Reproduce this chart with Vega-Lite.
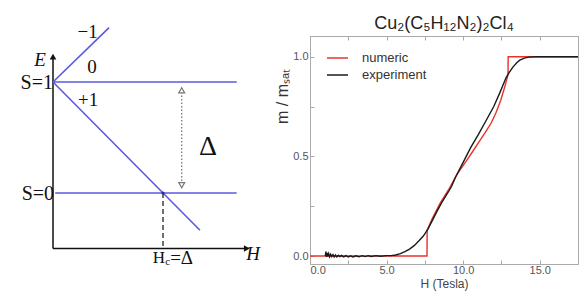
{
  "$schema": "https://vega.github.io/schema/vega-lite/v6.json",
  "padding": {"top": 14, "left": 0, "right": 0, "bottom": 0},
  "spacing": 13,
  "background": "white",
  "config": {"view": {"stroke": null}},
  "resolve": {"scale": {"color": "independent"}, "legend": {"color": "independent"}},
  "datasets": {
    "blue": [
      {"h": 0, "e": 1, "h2": 1.67, "e2": 1},
      {"h": 0.02, "e": 0, "h2": 1.67, "e2": 0},
      {"h": 0, "e": 1, "h2": 0.51, "e2": 1.49},
      {"h": 0, "e": 1, "h2": 1.336, "e2": -0.336}
    ],
    "axes": [
      {"h": 0, "e": -0.5, "h2": 0, "e2": 1.21},
      {"h": 0, "e": -0.5, "h2": 1.75, "e2": -0.5}
    ],
    "dash": [{"h": 1, "e": 0, "h2": 1, "e2": -0.5}],
    "dot": [{"h": 1.17, "e": 0.91, "h2": 1.17, "e2": 0.09}],
    "ahUp": [{"h": 0, "e": 1.228}],
    "ahRight": [{"h": 1.762, "e": -0.5}],
    "gapUp": [{"h": 1.17, "e": 0.925}],
    "gapDown": [{"h": 1.17, "e": 0.07}],
    "cross": [{"h": 1, "e": 0}],
    "sLabels": [
      {"h": 0.0, "e": 0.99, "t": "S=1"},
      {"h": 0.01, "e": -0.01, "t": "S=0"}
    ],
    "mLabels": [
      {"h": 0.314, "e": 1.45, "t": "−1"},
      {"h": 0.355, "e": 1.135, "t": "0"},
      {"h": 0.32, "e": 0.838, "t": "+1"}
    ],
    "italic": [
      {"h": -0.118, "e": 1.198, "t": "E"},
      {"h": 1.82, "e": -0.55, "t": "H"}
    ],
    "bigDelta": [{"h": 1.41, "e": 0.414, "t": "Δ"}],
    "hcH": [{"h": 1.018, "e": -0.59, "t": "H"}],
    "hcC": [{"h": 1.02, "e": -0.62, "t": "c"}],
    "hcEq": [{"h": 1.065, "e": -0.59, "t": "=Δ"}],
    "curves": [
      {"H": 0.0, "m": 0.0, "series": "numeric"},
      {"H": 7.64, "m": 0.0, "series": "numeric"},
      {"H": 7.65, "m": 0.13, "series": "numeric"},
      {"H": 8.0, "m": 0.19, "series": "numeric"},
      {"H": 8.5, "m": 0.265, "series": "numeric"},
      {"H": 9.1, "m": 0.34, "series": "numeric"},
      {"H": 9.6, "m": 0.41, "series": "numeric"},
      {"H": 10.2, "m": 0.476, "series": "numeric"},
      {"H": 10.6, "m": 0.522, "series": "numeric"},
      {"H": 11.07, "m": 0.576, "series": "numeric"},
      {"H": 11.5, "m": 0.627, "series": "numeric"},
      {"H": 11.85, "m": 0.67, "series": "numeric"},
      {"H": 12.15, "m": 0.72, "series": "numeric"},
      {"H": 12.45, "m": 0.78, "series": "numeric"},
      {"H": 12.7, "m": 0.844, "series": "numeric"},
      {"H": 12.93, "m": 0.91, "series": "numeric"},
      {"H": 12.94, "m": 1.0, "series": "numeric"},
      {"H": 17.5, "m": 1.0, "series": "numeric"},
      {"H": 1.0, "m": 0.0, "series": "experiment"},
      {"H": 1.04, "m": 0.022, "series": "experiment"},
      {"H": 1.08, "m": -0.004, "series": "experiment"},
      {"H": 1.12, "m": 0.016, "series": "experiment"},
      {"H": 1.17, "m": -0.002, "series": "experiment"},
      {"H": 1.22, "m": 0.012, "series": "experiment"},
      {"H": 1.28, "m": -0.004, "series": "experiment"},
      {"H": 1.35, "m": 0.009, "series": "experiment"},
      {"H": 1.42, "m": -0.003, "series": "experiment"},
      {"H": 1.5, "m": 0.007, "series": "experiment"},
      {"H": 1.58, "m": -0.004, "series": "experiment"},
      {"H": 1.66, "m": 0.005, "series": "experiment"},
      {"H": 1.75, "m": -0.004, "series": "experiment"},
      {"H": 1.85, "m": 0.004, "series": "experiment"},
      {"H": 1.95, "m": -0.003, "series": "experiment"},
      {"H": 2.05, "m": 0.003, "series": "experiment"},
      {"H": 2.2, "m": -0.004, "series": "experiment"},
      {"H": 2.35, "m": 0.002, "series": "experiment"},
      {"H": 2.5, "m": -0.005, "series": "experiment"},
      {"H": 2.65, "m": 0.001, "series": "experiment"},
      {"H": 2.8, "m": -0.005, "series": "experiment"},
      {"H": 3.0, "m": 0.001, "series": "experiment"},
      {"H": 3.2, "m": -0.004, "series": "experiment"},
      {"H": 3.4, "m": 0.002, "series": "experiment"},
      {"H": 3.6, "m": -0.003, "series": "experiment"},
      {"H": 3.8, "m": 0.002, "series": "experiment"},
      {"H": 4.0, "m": -0.002, "series": "experiment"},
      {"H": 4.3, "m": 0.002, "series": "experiment"},
      {"H": 4.6, "m": -0.001, "series": "experiment"},
      {"H": 5.0, "m": 0.002, "series": "experiment"},
      {"H": 5.3, "m": 0.002, "series": "experiment"},
      {"H": 5.6, "m": 0.005, "series": "experiment"},
      {"H": 5.9, "m": 0.012, "series": "experiment"},
      {"H": 6.2, "m": 0.022, "series": "experiment"},
      {"H": 6.5, "m": 0.035, "series": "experiment"},
      {"H": 6.8, "m": 0.052, "series": "experiment"},
      {"H": 7.1, "m": 0.075, "series": "experiment"},
      {"H": 7.4, "m": 0.1, "series": "experiment"},
      {"H": 7.7, "m": 0.135, "series": "experiment"},
      {"H": 8.0, "m": 0.18, "series": "experiment"},
      {"H": 8.3, "m": 0.225, "series": "experiment"},
      {"H": 8.6, "m": 0.268, "series": "experiment"},
      {"H": 8.9, "m": 0.305, "series": "experiment"},
      {"H": 9.1, "m": 0.33, "series": "experiment"},
      {"H": 9.25, "m": 0.35, "series": "experiment"},
      {"H": 9.5, "m": 0.395, "series": "experiment"},
      {"H": 10.0, "m": 0.47, "series": "experiment"},
      {"H": 10.5, "m": 0.545, "series": "experiment"},
      {"H": 11.0, "m": 0.61, "series": "experiment"},
      {"H": 11.5, "m": 0.68, "series": "experiment"},
      {"H": 12.0, "m": 0.75, "series": "experiment"},
      {"H": 12.4, "m": 0.82, "series": "experiment"},
      {"H": 12.8, "m": 0.894, "series": "experiment"},
      {"H": 13.0, "m": 0.92, "series": "experiment"},
      {"H": 13.25, "m": 0.948, "series": "experiment"},
      {"H": 13.5, "m": 0.97, "series": "experiment"},
      {"H": 13.7, "m": 0.983, "series": "experiment"},
      {"H": 14.0, "m": 0.993, "series": "experiment"},
      {"H": 14.3, "m": 0.998, "series": "experiment"},
      {"H": 14.8, "m": 1.0, "series": "experiment"},
      {"H": 17.5, "m": 1.0, "series": "experiment"}
    ]
  },
  "hconcat": [
    {
      "width": 260,
      "height": 258,
      "view": {"stroke": null},
      "layer": [
        {
          "data": {"name": "axes"},
          "mark": {"type": "rule", "color": "#111", "strokeWidth": 1.5},
          "encoding": {
            "x": {"field": "h", "type": "quantitative", "scale": {"domain": [-0.4818, 1.8818], "nice": false, "zero": false}, "axis": null},
            "y": {"field": "e", "type": "quantitative", "scale": {"domain": [-0.9099, 1.4144], "nice": false, "zero": false}, "axis": null},
            "x2": {"field": "h2"},
            "y2": {"field": "e2"}
          }
        },
        {
          "data": {"name": "blue"},
          "mark": {"type": "rule", "color": "#5a5ae0", "strokeWidth": 1.6},
          "encoding": {
            "x": {"field": "h", "type": "quantitative", "axis": null},
            "y": {"field": "e", "type": "quantitative", "axis": null},
            "x2": {"field": "h2"},
            "y2": {"field": "e2"}
          }
        },
        {
          "data": {"name": "dash"},
          "mark": {"type": "rule", "color": "#222", "strokeWidth": 1.3, "strokeDash": [5, 3]},
          "encoding": {
            "x": {"field": "h", "type": "quantitative", "axis": null},
            "y": {"field": "e", "type": "quantitative", "axis": null},
            "x2": {"field": "h2"},
            "y2": {"field": "e2"}
          }
        },
        {
          "data": {"name": "dot"},
          "mark": {"type": "rule", "color": "#777", "strokeWidth": 1.3, "strokeDash": [1.5, 2]},
          "encoding": {
            "x": {"field": "h", "type": "quantitative", "axis": null},
            "y": {"field": "e", "type": "quantitative", "axis": null},
            "x2": {"field": "h2"},
            "y2": {"field": "e2"}
          }
        },
        {
          "data": {"name": "ahUp"},
          "mark": {"type": "point", "shape": "triangle-up", "filled": true, "color": "#111", "size": 45, "opacity": 1},
          "encoding": {
            "x": {"field": "h", "type": "quantitative", "axis": null},
            "y": {"field": "e", "type": "quantitative", "axis": null}
          }
        },
        {
          "data": {"name": "ahRight"},
          "mark": {"type": "point", "shape": "triangle-right", "filled": true, "color": "#111", "size": 45, "opacity": 1},
          "encoding": {
            "x": {"field": "h", "type": "quantitative", "axis": null},
            "y": {"field": "e", "type": "quantitative", "axis": null}
          }
        },
        {
          "data": {"name": "gapUp"},
          "mark": {"type": "point", "shape": "triangle-up", "filled": false, "fill": "white", "stroke": "#777", "strokeWidth": 1.2, "size": 35, "opacity": 1},
          "encoding": {
            "x": {"field": "h", "type": "quantitative", "axis": null},
            "y": {"field": "e", "type": "quantitative", "axis": null}
          }
        },
        {
          "data": {"name": "gapDown"},
          "mark": {"type": "point", "shape": "triangle-down", "filled": false, "fill": "white", "stroke": "#777", "strokeWidth": 1.2, "size": 35, "opacity": 1},
          "encoding": {
            "x": {"field": "h", "type": "quantitative", "axis": null},
            "y": {"field": "e", "type": "quantitative", "axis": null}
          }
        },
        {
          "data": {"name": "cross"},
          "mark": {"type": "point", "shape": "circle", "filled": true, "color": "#2a2a90", "size": 10, "opacity": 1},
          "encoding": {
            "x": {"field": "h", "type": "quantitative", "axis": null},
            "y": {"field": "e", "type": "quantitative", "axis": null}
          }
        },
        {
          "data": {"name": "sLabels"},
          "mark": {"type": "text", "font": "Liberation Serif", "fontSize": 20, "align": "right", "baseline": "middle", "color": "#111"},
          "encoding": {
            "x": {"field": "h", "type": "quantitative", "axis": null},
            "y": {"field": "e", "type": "quantitative", "axis": null},
            "text": {"field": "t"}
          }
        },
        {
          "data": {"name": "mLabels"},
          "mark": {"type": "text", "font": "Liberation Serif", "fontSize": 19, "align": "center", "baseline": "middle", "color": "#111"},
          "encoding": {
            "x": {"field": "h", "type": "quantitative", "axis": null},
            "y": {"field": "e", "type": "quantitative", "axis": null},
            "text": {"field": "t"}
          }
        },
        {
          "data": {"name": "italic"},
          "mark": {"type": "text", "font": "Liberation Serif", "fontStyle": "italic", "fontSize": 19, "align": "center", "baseline": "middle", "color": "#111"},
          "encoding": {
            "x": {"field": "h", "type": "quantitative", "axis": null},
            "y": {"field": "e", "type": "quantitative", "axis": null},
            "text": {"field": "t"}
          }
        },
        {
          "data": {"name": "bigDelta"},
          "mark": {"type": "text", "font": "Liberation Serif", "fontSize": 28, "align": "center", "baseline": "middle", "color": "#111"},
          "encoding": {
            "x": {"field": "h", "type": "quantitative", "axis": null},
            "y": {"field": "e", "type": "quantitative", "axis": null},
            "text": {"field": "t"}
          }
        },
        {
          "data": {"name": "hcH"},
          "mark": {"type": "text", "font": "Liberation Serif", "fontSize": 17, "align": "right", "baseline": "middle", "color": "#111"},
          "encoding": {
            "x": {"field": "h", "type": "quantitative", "axis": null},
            "y": {"field": "e", "type": "quantitative", "axis": null},
            "text": {"field": "t"}
          }
        },
        {
          "data": {"name": "hcC"},
          "mark": {"type": "text", "font": "Liberation Serif", "fontSize": 11, "align": "left", "baseline": "middle", "color": "#111"},
          "encoding": {
            "x": {"field": "h", "type": "quantitative", "axis": null},
            "y": {"field": "e", "type": "quantitative", "axis": null},
            "text": {"field": "t"}
          }
        },
        {
          "data": {"name": "hcEq"},
          "mark": {"type": "text", "font": "Liberation Serif", "fontSize": 19, "align": "left", "baseline": "middle", "color": "#111"},
          "encoding": {
            "x": {"field": "h", "type": "quantitative", "axis": null},
            "y": {"field": "e", "type": "quantitative", "axis": null},
            "text": {"field": "t"}
          }
        }
      ]
    },
    {
      "width": 268,
      "height": 228,
      "view": {"stroke": "#aaa", "strokeWidth": 1},
      "title": {"text": "Cu₂(C₅H₁₂N₂)₂Cl₄", "font": "Liberation Sans", "fontSize": 18, "fontWeight": "normal", "color": "#222", "offset": 3},
      "data": {"name": "curves"},
      "layer": [
        {
          "transform": [{"filter": "datum.series === 'numeric'"}],
          "mark": {"type": "line", "strokeWidth": 1.4, "clip": true},
          "encoding": {
            "x": {
              "field": "H", "type": "quantitative",
              "scale": {"domain": [0, 17.5], "nice": false, "zero": false},
              "axis": {
                "title": "H (Tesla)", "orient": "bottom",
                "values": [0, 2.5, 5, 7.5, 10, 12.5, 15, 17.5],
                "labelExpr": "datum.value % 5 == 0 ? format(datum.value, '.1f') : ''",
                "grid": false, "domain": false, "tickColor": "#aaa", "tickSize": -4, "labelPadding": 4,
                "labelFont": "Liberation Sans", "labelFontSize": 11, "labelColor": "#555",
                "titleFont": "Liberation Sans", "titleFontSize": 12, "titleFontWeight": "normal", "titleColor": "#444", "titlePadding": 3
              }
            },
            "y": {
              "field": "m", "type": "quantitative",
              "scale": {"domain": [-0.04, 1.104], "nice": false, "zero": false},
              "axis": {
                "title": "m / mₛₐₜ",
                "values": [0, 0.25, 0.5, 0.75, 1],
                "labelExpr": "datum.value % 0.5 == 0 ? format(datum.value, '.1f') : ''",
                "grid": false, "domain": false, "tickColor": "#aaa", "tickSize": -4, "labelPadding": 6,
                "labelFont": "Liberation Sans", "labelFontSize": 11, "labelColor": "#555",
                "titleFont": "Liberation Sans", "titleFontSize": 16, "titleFontWeight": "normal", "titleColor": "#333", "titlePadding": 2, "titleY": 60
              }
            },
            "color": {
              "field": "series", "type": "nominal",
              "scale": {"domain": ["numeric", "experiment"], "range": ["#e8322c", "#1a1a1a"]},
              "legend": {
                "title": null, "orient": "none", "legendX": 16, "legendY": 15.5,
                "symbolType": "stroke", "symbolSize": 441, "symbolStrokeWidth": 1.5,
                "labelFont": "Liberation Sans", "labelFontSize": 13, "labelColor": "#333", "labelOffset": 13,
                "clipHeight": 13, "rowPadding": 3, "padding": 0
              }
            }
          }
        },
        {
          "transform": [{"filter": "datum.series === 'experiment'"}],
          "mark": {"type": "line", "strokeWidth": 1.4, "clip": true},
          "encoding": {
            "x": {
              "field": "H", "type": "quantitative",
              "axis": {"orient": "top", "title": null, "labels": false, "values": [0, 2.5, 5, 7.5, 10, 12.5, 15, 17.5], "grid": false, "domain": false, "tickColor": "#aaa", "tickSize": -4}
            },
            "y": {"field": "m", "type": "quantitative"},
            "color": {"field": "series", "type": "nominal"}
          }
        }
      ],
      "resolve": {"axis": {"x": "independent"}}
    }
  ]
}
